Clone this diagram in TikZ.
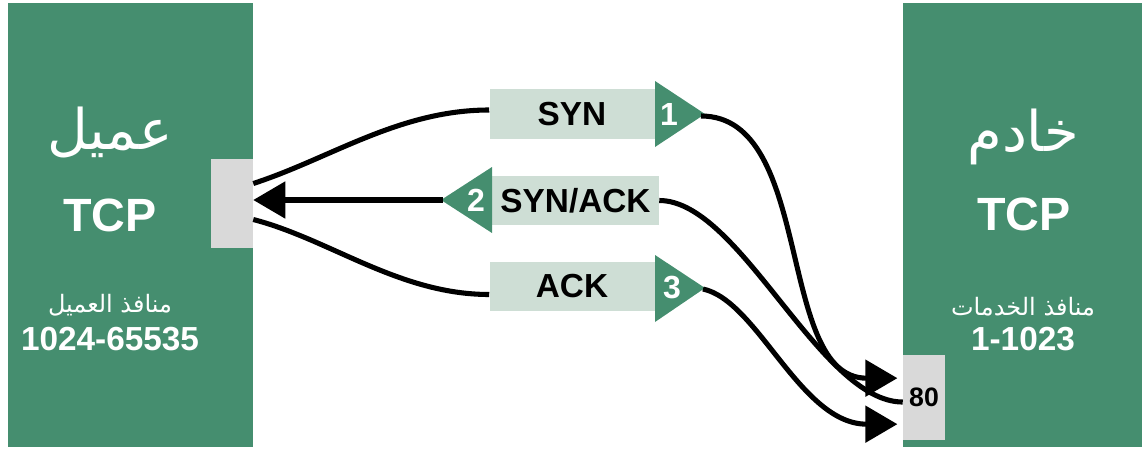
\documentclass[tikz,border=0pt]{standalone}
\usepackage{fontspec}
\setmainfont{Liberation Sans}
\newfontfamily\arabicfont[Script=Arabic]{DejaVu Sans}
\TeXXeTstate=1
\usetikzlibrary{arrows.meta}
\definecolor{tcpgreen}{RGB}{69,142,111}
\definecolor{msgfill}{RGB}{206,222,213}
\definecolor{portgray}{RGB}{217,217,217}
\tikzset{
  port/.style={fill=portgray, inner sep=0pt, minimum width=31.5pt, font=\bfseries\fontsize{20}{20}\selectfont},
  msg/.style={fill=msgfill, inner sep=0pt, minimum width=123.75pt, minimum height=37pt, font=\bfseries\fontsize{25}{25}\selectfont},
  num/.style={text=white, inner sep=0pt, font=\bfseries\fontsize{24}{24}\selectfont},
  hostname/.style={text=white, inner sep=0pt, font=\arabicfont\fontsize{42}{42}\selectfont},
  hostproto/.style={text=white, inner sep=0pt, font=\bfseries\fontsize{35}{35}\selectfont},
  hostports/.style={text=white, inner sep=0pt, font=\arabicfont\fontsize{18}{18}\selectfont},
  hostrange/.style={text=white, inner sep=0pt, font=\bfseries\fontsize{25}{25}\selectfont},
  wire/.style={line width=3.8pt},
  bighead/.style={-{Triangle[length=24pt,width=27pt]}}
}
\begin{document}
\begin{tikzpicture}[x=0.75pt,y=0.75pt,yscale=-1,xscale=1]
\useasboundingbox (0,0) rectangle (1142,453);

%Shape: Rectangle (client)
\fill [tcpgreen] (8,3) rectangle (253,447);
%Shape: Rectangle (server)
\fill [tcpgreen] (903,3) rectangle (1142,447);

%Ports
\node [port, minimum height=66.75pt] (cport) at (232,203.5) {};
\node [port, minimum height=63.75pt] (sport) at (924,397.5) {80};

% Text Node
\node [hostname] (cname) at (110,132) {\beginR عميل\endR};
\node [hostproto] (cproto) at (110,215) {TCP};
\node [hostports] (cports) at (110,305) {\beginR منافذ العميل\endR};
\node [hostrange] (crange) at (110,339) {1024-65535};
% Text Node
\node [hostname] (sname) at (1023,137) {\beginR خادم\endR};
\node [hostproto] (sproto) at (1024,214) {TCP};
\node [hostports] (sports) at (1023,307) {\beginR منافذ الخدمات\endR};
\node [hostrange] (srange) at (1023,339) {1-1023};

%Messages
\node [msg, minimum height=37.5pt] (syn) at (572,114) {SYN};
\node [msg, minimum width=125.25pt] (synack) at (575.5,200.5) {SYN/ACK};
\node [msg] (ack) at (572,286.5) {ACK};

%Triangles
\fill [tcpgreen] (655,81) -- (705,114) -- (655,147) -- cycle;
\coordinate (t1) at (701,116);
\fill [tcpgreen] (492,167) -- (441,200) -- (492,233) -- cycle;
\coordinate (t2) at (443,200);
\fill [tcpgreen] (655,255) -- (705,288) -- (655,322) -- cycle;
\coordinate (t3) at (703,289);
\node [num] (k1) at (669,114) {1};
\node [num] (k2) at (476,200) {2};
\node [num] (k3) at (672,288) {3};

%Curves: client side (yshift runs downwards here)
\draw [wire] ([yshift=-15pt]cport.east) .. controls +(77,-25) and +(-90,0) .. ([yshift=-3pt]syn.west);
\draw [wire, bighead] (t2) -- (cport.east |- t2);
\draw [wire] ([yshift=12pt]cport.east) .. controls +(77,20) and +(-90,0) .. ([yshift=6pt]ack.west);

%Curves: server side
\draw [wire, bighead] (t1) .. controls +(114,0) and +(-122,0) .. ([xshift=-4pt,yshift=-14.5pt]sport.west);
\draw [wire] (synack.east) .. controls +(81,0) and +(-83,0) .. ([yshift=3.4pt]sport.west);
\draw [wire, bighead] (t3) .. controls +(55,12) and +(-97,0) .. ([xshift=-4pt,yshift=20pt]sport.west);

\end{tikzpicture}
\end{document}
